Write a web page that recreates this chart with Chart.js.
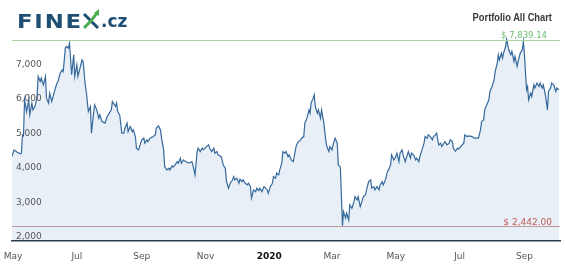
<!DOCTYPE html>
<html>
<head>
<meta charset="utf-8">
<script src="https://cdn.jsdelivr.net/npm/chart.js@4"></script>
<style>
  body { margin: 0; background: #fff; }
  #wrap { position: relative; width: 565px; height: 265px; }
  .logo { position: absolute; top: 11px; font: bold 19px "DejaVu Sans"; line-height: 20px; color: #1f4f72; }
  .title { position: absolute; right: 13px; top: 11px; font: bold 11.5px "Liberation Sans"; line-height: 13px;
           color: #3a3a3a; transform: scaleX(0.81); transform-origin: right center; white-space: nowrap; }
</style>
</head>
<body>
<div id="wrap">
  <canvas id="myChart" width="565" height="265"></canvas>
  <div class="logo" style="left:17px;letter-spacing:1.5px;transform:scaleX(1.2);transform-origin:left center">FINE</div>
  <svg style="position:absolute;left:82px;top:9px" width="20" height="20" viewBox="0 0 20 20">
    <line x1="2" y1="5" x2="16" y2="19" stroke="#1f4f72" stroke-width="3"/>
    <path d="M2 19 Q9 13 15 4" stroke="#4caf50" stroke-width="3" fill="none"/>
    <path d="M12 4 L17 0 L17 7 Z" fill="#4caf50"/>
  </svg>
  <div class="logo" style="left:101px;font-size:17px">.cz</div>
  <div class="title">Portfolio All Chart</div>
</div>
<script>
const startDate = '2019-05-01';

// days after startDate
const days = [
  -1, 1, 4, 7, 8, 9, 10, 11, 13, 15,
  16, 18, 19, 21, 23, 24, 26, 27, 29, 31,
  32, 34, 35, 37, 40, 42, 43, 45, 47, 48,
  50, 51, 53, 54, 56, 58, 59, 61, 62, 64,
  66, 67, 69, 70, 72, 74, 75, 77, 78, 80,
  82, 83, 85, 88, 90, 91, 94, 95, 98, 99,
  100, 102, 104, 106, 107, 109, 110, 112, 114, 115,
  117, 118, 120, 121, 123, 125, 126, 128, 129, 131,
  134, 136, 137, 139, 141, 142, 144, 145, 147, 149,
  150, 152, 153, 155, 157, 158, 160, 161, 163, 165,
  168, 171, 172, 174, 176, 177, 179, 181, 182, 185,
  187, 188, 190, 192, 193, 195, 196, 199, 201, 203,
  204, 206, 208, 209, 211, 212, 214, 216, 217, 219,
  220, 222, 224, 225, 227, 228, 230, 232, 233, 235,
  236, 238, 240, 243, 244, 246, 248, 249, 251, 252,
  254, 255, 257, 258, 260, 261, 263, 264, 266, 268,
  270, 271, 273, 275, 276, 278, 279, 281, 283, 284,
  285, 287, 288, 289, 291, 292, 294, 295, 297, 299,
  300, 302, 303, 305, 306, 308, 310, 311, 313, 315,
  316, 318, 319, 321, 322, 324, 326, 327, 329, 330,
  332, 334, 335, 337, 338, 340, 342, 343, 345, 346,
  348, 350, 351, 353, 354, 356, 358, 359, 361, 362,
  364, 366, 367, 369, 370, 372, 373, 375, 377, 378,
  380, 381, 383, 385, 386, 388, 389, 391, 393, 394,
  396, 397, 399, 401, 402, 404, 405, 407, 409, 410,
  412, 413, 415, 417, 418, 420, 421, 423, 425, 426,
  428, 431, 432, 434, 436, 439, 441, 443, 445, 447,
  448, 450, 451, 453, 455, 456, 458, 460, 461, 463,
  464, 465, 467, 468, 469, 471, 472, 474, 476, 477,
  479, 480, 482, 483, 485, 487, 488, 489, 491, 492,
  493, 495, 496, 498, 499, 501, 503, 504, 506, 507,
  509, 511, 512, 514, 515, 517, 519, 520, 522
];

const values = [
  4446, 4641, 4574, 4525, 4545, 5076, 5050, 6092, 5752, 6092,
  5656, 5996, 5801, 5897, 6188, 6768, 6623, 6721, 6527, 6768,
  6141, 5996, 6286, 6044, 6382, 6576, 6623, 6866, 6962, 6913,
  7592, 7638, 7592, 7737, 6817, 7398, 6768, 7108, 6768, 7011,
  7253, 7204, 6527, 6334, 5752, 5897, 5125, 5704, 5947, 5801,
  5560, 5656, 5462, 5416, 5607, 5656, 5801, 6044, 5900, 5996,
  5752, 5656, 5125, 5125, 5270, 5416, 5172, 5318, 5172, 5221,
  5027, 4690, 4641, 4737, 4931, 4980, 4835, 4931, 4882, 4980,
  5027, 5076, 5270, 5337, 5221, 4980, 4641, 4156, 4060, 4110,
  4060, 4176, 4139, 4205, 4301, 4255, 4400, 4255, 4351, 4301,
  4255, 4301, 4205, 3915, 4592, 4690, 4592, 4690, 4641, 4737,
  4786, 4690, 4592, 4690, 4545, 4592, 4496, 4446, 4205, 4100,
  3745, 3529, 3700, 3721, 3866, 3770, 3819, 3674, 3790, 3721,
  3770, 3674, 3625, 3674, 3576, 3239, 3480, 3431, 3529, 3460,
  3529, 3431, 3576, 3480, 3384, 3576, 3674, 3866, 3819, 3965,
  3915, 4060, 4255, 4592, 4545, 4592, 4446, 4496, 4351, 4301,
  4641, 4786, 4882, 4931, 4980, 5027, 5416, 5560, 5801, 5704,
  5996, 6141, 6237, 5897, 5704, 5801, 5560, 5801, 5462, 4931,
  4737, 4592, 4737, 4641, 4786, 4980, 4835, 4205, 4139, 2442,
  2850, 2659, 2804, 2609, 3045, 2949, 3140, 3286, 3190, 3286,
  2995, 3190, 3286, 3335, 3480, 3721, 3770, 3529, 3576, 3480,
  3576, 3480, 3625, 3721, 3625, 3770, 4011, 4060, 4205, 4496,
  4351, 4446, 4545, 4301, 4545, 4641, 4496, 4301, 4496, 4592,
  4400, 4545, 4496, 4351, 4400, 4301, 4446, 4641, 4835, 5027,
  4980, 5076, 5027, 4931, 5027, 5076, 5125, 4786, 4835, 4737,
  4835, 4882, 4786, 4835, 4931, 4882, 4690, 4600, 4690, 4661,
  4737, 4835, 5076, 5027, 5047, 5027, 4980, 4980, 4980, 5221,
  5462, 5511, 5801, 5947, 6092, 6334, 6478, 6672, 6913, 7156,
  7398, 7253, 7447, 7302, 7447, 7638, 7839.14, 7543, 7398, 7495,
  7204, 7350, 7060, 7204, 7447, 7543, 7780, 7398, 6382, 6478,
  6092, 6286, 6188, 6527, 6431, 6576, 6478, 6576, 6431, 6527,
  6237, 5801, 6334, 6431, 6576, 6527, 6334, 6431, 6382
];

const tickDates = ['2019-05-01', '2019-07-01', '2019-09-01', '2019-11-01', '2020-01-01',
                   '2020-03-01', '2020-05-01', '2020-07-01', '2020-09-01'];
const tickLabels = ['May', 'Jul', 'Sep', 'Nov', '2020', 'Mar', 'May', 'Jul', 'Sep'];

const dayOf = d => Math.round((Date.parse(d) - Date.parse(startDate)) / 864e5);
const tickDays = tickDates.map(dayOf);

const money = v => '$ ' + v.toLocaleString('en-US', {minimumFractionDigits: 2, maximumFractionDigits: 2});

// max / min lines with their labels
const extremes = {
    id: 'extremes',
    afterDatasetsDraw(chart) {
        const {ctx, chartArea, scales} = chart;
        const hi = Math.max(...values);
        const lo = Math.min(...values);
        const marks = [
            {v: hi, line: '#a9d6a0', text: '#6dbb6d', font: '8.5px "DejaVu Sans"', dx: 13, dy: 3},
            {v: lo, line: '#bf9a9a', text: '#c25a55', font: '9px "DejaVu Sans"', dx: 8, dy: 2}
        ];
        ctx.save();
        marks.forEach(m => {
            const y = Math.round(scales.y.getPixelForValue(m.v)) + 0.5;
            ctx.strokeStyle = m.line;
            ctx.lineWidth = 1;
            ctx.beginPath();
            ctx.moveTo(chartArea.left, y);
            ctx.lineTo(chartArea.right, y);
            ctx.stroke();
            ctx.fillStyle = m.text;
            ctx.font = m.font;
            ctx.textAlign = 'right';
            ctx.textBaseline = 'alphabetic';
            ctx.fillText(money(m.v), chartArea.right - m.dx, y - m.dy);
        });
        ctx.restore();
    }
};

const ctx = document.getElementById('myChart').getContext('2d');

const chart = new Chart(ctx, {
    type: 'line',
    data: {
        datasets: [{
            data: days.map((d, i) => ({x: d, y: values[i]})),
            borderColor: '#36699c',
            borderWidth: 1.2,
            backgroundColor: '#e8eff7',
            fill: 'start',
            pointRadius: 0,
            tension: 0
        }]
    },
    options: {
        responsive: false,
        animation: false,
        devicePixelRatio: 1,
        layout: {padding: {left: 12, right: 5, top: 34, bottom: 0}},
        plugins: {
            legend: {display: false},
            tooltip: {enabled: false}
        },
        scales: {
            x: {
                type: 'linear',
                min: -1,
                max: 523,
                grid: {display: false, drawTicks: false},
                border: {display: true, color: '#2e3d4c', width: 1.5, z: 1},
                afterBuildTicks: s => { s.ticks = tickDays.map(v => ({value: v})); },
                afterFit: s => { s.height = 24; s.paddingLeft = 0; s.paddingRight = 0; },
                ticks: {
                    autoSkip: false,
                    maxRotation: 0,
                    padding: 10,
                    color: c => c.index === 4 ? '#111' : '#555',
                    font: c => ({family: 'DejaVu Sans', size: 9, weight: c.index === 4 ? 'bold' : 'normal'}),
                    callback: (v, i) => tickLabels[i]
                }
            },
            y: {
                min: 2000,
                max: 8000,
                grid: {display: false},
                border: {display: false},
                afterFit: s => { s.width = 0; s.paddingTop = 0; s.paddingBottom = 0; },
                ticks: {
                    z: 1,
                    stepSize: 1000,
                    mirror: true,
                    padding: 4,
                    labelOffset: -4,
                    color: '#555',
                    font: {family: 'DejaVu Sans', size: 9},
                    callback: v => v >= 8000 ? null : v.toLocaleString('en-US')
                }
            }
        }
    },
    plugins: [extremes]
});
</script>
</body>
</html>
